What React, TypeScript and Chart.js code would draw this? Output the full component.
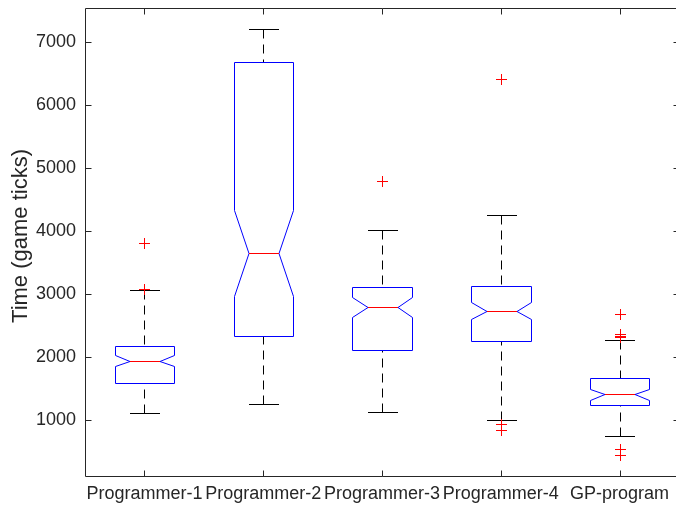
import React, { useEffect, useRef } from 'react';
import { Chart, registerables } from 'chart.js';

Chart.register(...registerables);

const categories = ['Programmer-1', 'Programmer-2', 'Programmer-3', 'Programmer-4', 'GP-program'];
const whiskerLow = [1100, 1249, 1121, 989, 735];
const q1 = [1582, 2322, 2100, 2254, 1233];
const notchLow = [1846, 2968, 2624, 2592, 1317];
const median = [1937, 3646, 2783, 2730, 1408];
const notchHigh = [2020, 4333, 2941, 2862, 1492];
const q3 = [2175, 6687, 3100, 3127, 1656];
const whiskerHigh = [3052, 7200, 4005, 4254, 2259];
const outliers1 = [3810, 3075];
const outliers2: number[] = [];
const outliers3 = [4783];
const outliers4 = [6408, 932, 830];
const outliers5 = [2671, 2365, 2335, 2310, 540, 435];
const outlierGroups = [outliers1, outliers2, outliers3, outliers4, outliers5];
const yTicks = [1000, 2000, 3000, 4000, 5000, 6000, 7000];
const yMin = 103;
const yMax = 7540;
const yTitle = 'Time (game ticks)';

const AXIS = '#262626';
const FONT = "'Liberation Sans', Arial, Helvetica, sans-serif";

const boxPlugin = {
  id: 'matlabBox',
  beforeDatasetsDraw(chart: any) {
    const { ctx } = chart;
    const xs = chart.scales.x;
    const ys = chart.scales.y;
    const P = (v: number) => Math.round(v) + 0.5;
    const Y = (v: number) => P(ys.getPixelForValue(v));
    ctx.save();
    ctx.lineWidth = 1;
    categories.forEach((_, i) => {
      const cx = P(xs.getPixelForValue(i));
      const l = P(xs.getPixelForValue(i - 0.25));
      const r = P(xs.getPixelForValue(i + 0.25));
      const w = r - l;
      const nl = Math.round(l + w / 4);
      const nr = Math.round(r - w / 4);
      // whiskers
      ctx.strokeStyle = '#000000';
      ctx.setLineDash([9, 6]);
      ctx.beginPath();
      ctx.moveTo(cx, Y(whiskerHigh[i]));
      ctx.lineTo(cx, Y(q3[i]));
      ctx.moveTo(cx, Y(whiskerLow[i]));
      ctx.lineTo(cx, Y(q1[i]));
      ctx.stroke();
      ctx.setLineDash([]);
      // caps
      ctx.beginPath();
      ctx.moveTo(nl, Y(whiskerHigh[i]));
      ctx.lineTo(nr, Y(whiskerHigh[i]));
      ctx.moveTo(nl, Y(whiskerLow[i]));
      ctx.lineTo(nr, Y(whiskerLow[i]));
      ctx.stroke();
      // notched box
      ctx.strokeStyle = '#0000ff';
      ctx.beginPath();
      ctx.moveTo(l, Y(q3[i]));
      ctx.lineTo(r, Y(q3[i]));
      ctx.lineTo(r, Y(notchHigh[i]));
      ctx.lineTo(nr, Y(median[i]));
      ctx.lineTo(r, Y(notchLow[i]));
      ctx.lineTo(r, Y(q1[i]));
      ctx.lineTo(l, Y(q1[i]));
      ctx.lineTo(l, Y(notchLow[i]));
      ctx.lineTo(nl, Y(median[i]));
      ctx.lineTo(l, Y(notchHigh[i]));
      ctx.closePath();
      ctx.stroke();
      // median
      ctx.strokeStyle = '#ff0000';
      ctx.beginPath();
      ctx.moveTo(nl, Y(median[i]));
      ctx.lineTo(nr, Y(median[i]));
      ctx.stroke();
    });
    ctx.restore();
  },
  afterDatasetsDraw(chart: any) {
    const { ctx } = chart;
    const meta = chart.getDatasetMeta(0);
    ctx.save();
    ctx.strokeStyle = '#ff0000';
    ctx.lineWidth = 1;
    ctx.beginPath();
    meta.data.forEach((pt: any) => {
      const x = Math.round(pt.x) + 0.5;
      const y = Math.round(pt.y) + 0.5;
      ctx.moveTo(x - 5.5, y);
      ctx.lineTo(x + 5.5, y);
      ctx.moveTo(x, y - 5.5);
      ctx.lineTo(x, y + 5.5);
    });
    ctx.stroke();
    ctx.restore();
  },
  afterDraw(chart: any) {
    const { ctx, chartArea } = chart;
    const xs = chart.scales.x;
    const ys = chart.scales.y;
    const P = (v: number) => Math.round(v) + 0.5;
    const L = P(chartArea.left);
    const R = P(chartArea.right);
    const T = P(chartArea.top);
    const B = P(chartArea.bottom);
    ctx.save();
    ctx.strokeStyle = AXIS;
    ctx.lineWidth = 1;
    ctx.beginPath();
    ctx.rect(L, T, R - L, B - T);
    const tl = 6;
    categories.forEach((_, i) => {
      const x = P(xs.getPixelForValue(i));
      ctx.moveTo(x, B);
      ctx.lineTo(x, B - tl);
      ctx.moveTo(x, T);
      ctx.lineTo(x, T + tl);
    });
    yTicks.forEach((v) => {
      const y = P(ys.getPixelForValue(v));
      ctx.moveTo(L, y);
      ctx.lineTo(L + tl, y);
      ctx.moveTo(R, y);
      ctx.lineTo(R - tl, y);
    });
    ctx.stroke();
    // y-axis title
    ctx.translate(20.5, (chartArea.top + chartArea.bottom) / 2 - 6);
    ctx.rotate(-Math.PI / 2);
    ctx.fillStyle = AXIS;
    ctx.font = `22px ${FONT}`;
    ctx.textAlign = 'center';
    ctx.textBaseline = 'middle';
    ctx.fillText(yTitle, 0, 0);
    ctx.restore();
  },
};

export default function App() {
  const ref = useRef<HTMLCanvasElement | null>(null);
  useEffect(() => {
    if (!ref.current) return;
    const outlierData: { x: string; y: number }[] = [];
    outlierGroups.forEach((g, i) => g.forEach((v) => outlierData.push({ x: categories[i], y: v })));
    const chart = new Chart(ref.current, {
      type: 'scatter',
      data: {
        labels: categories,
        datasets: [
          {
            label: 'Outliers',
            data: outlierData as any,
            pointStyle: 'cross',
            pointRadius: 0,
            pointBorderColor: '#ff0000',
            pointBackgroundColor: '#ff0000',
            pointBorderWidth: 1,
          },
        ],
      },
      options: {
        animation: false,
        responsive: false,
        events: [],
        layout: { padding: { top: 8, right: 1, left: 0, bottom: 0 } },
        plugins: { legend: { display: false }, tooltip: { enabled: false } },
        scales: {
          x: {
            type: 'category',
            labels: categories,
            offset: true,
            grid: { display: false, drawTicks: false },
            border: { display: false },
            ticks: {
              color: AXIS,
              font: { family: FONT, size: 18 },
              padding: 7,
              maxRotation: 0,
              autoSkip: false,
            },
            afterFit(axis: any) {
              axis.height = 33;
              axis.paddingLeft = 0;
              axis.paddingRight = 0;
            },
          },
          y: {
            type: 'linear',
            min: yMin,
            max: yMax,
            grid: { display: false, drawTicks: false },
            border: { display: false },
            afterBuildTicks(axis: any) {
              axis.ticks = yTicks.map((v) => ({ value: v }));
            },
            ticks: {
              color: AXIS,
              font: { family: FONT, size: 18 },
              padding: 9,
              callback: (v: any) => String(v),
            },
            title: { display: false, text: yTitle },
            afterFit(axis: any) {
              axis.width = 85;
              axis.paddingTop = 0;
              axis.paddingBottom = 0;
            },
          },
        },
      },
      plugins: [boxPlugin],
    });
    return () => chart.destroy();
  }, []);
  return (
    <div style={{ position: 'fixed', left: 0, top: 0, width: 676, height: 509, overflow: 'hidden', background: '#fff' }}>
      <canvas ref={ref} width={680} height={509} style={{ width: 680, height: 509, display: 'block' }} />
    </div>
  );
}
